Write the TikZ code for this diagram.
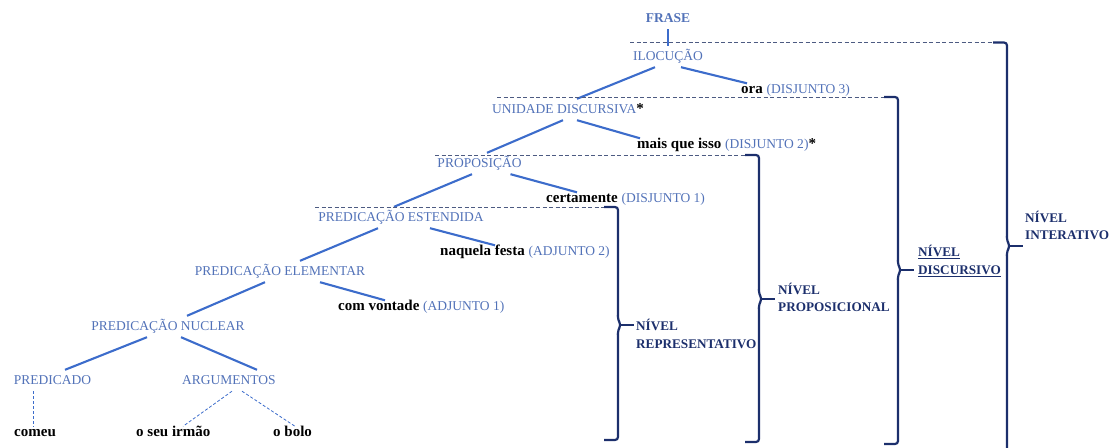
\documentclass[tikz,border=0pt]{standalone}
\usepackage{fontspec}
\setmainfont{Liberation Serif}
\usetikzlibrary{positioning}

\definecolor{catblue}{HTML}{5272B8}
\definecolor{edgeblue}{HTML}{3C6CCB}
\definecolor{layergray}{HTML}{4D5B82}
\definecolor{levelnavy}{HTML}{1C2F6C}

\newcommand{\catfont}{\fontsize{13.5}{16}\selectfont}
\newcommand{\wordfont}{\fontsize{15}{18}\selectfont\bfseries}
\newcommand{\gloss}[1]{{\catfont\mdseries\color{catblue}#1}}

\begin{document}
\begin{tikzpicture}[
			x=1pt, y=-1pt,
			cat/.style={
				font=\catfont,
				text=catblue,
				inner xsep=0pt,
				inner ysep=4pt,
				text height=10pt,
				text depth=3pt,
				yshift=-1.5pt
			},
			word/.style={
				font=\wordfont,
				text=black,
				anchor=west,
				inner sep=0pt,
				text height=10pt,
				text depth=3pt
			},
			level/.style={
				font=\fontsize{13.2}{17.5}\selectfont\bfseries,
				text=levelnavy,
				anchor=west,
				align=left,
				inner sep=0pt
			},
			edge/.style={
				edgeblue,
				line width=2.1pt
			},
			leaf/.style={
				edgeblue,
				dash pattern=on 3pt off 2pt,
				line width=0.8pt
			},
			layer/.style={
				layergray,
				dash pattern=on 4pt off 2.5pt,
				line width=1pt
			},
			bracket/.style={
				levelnavy,
				line width=2.2pt,
				rounded corners=3pt
			}
			]
			\clip (0,0) rectangle (1115,447);
			
			% FRASE and ILOCUÇÃO (top)
			\node[cat, font=\catfont\bfseries] (frase) at (668,17) {FRASE};
			\node[cat] (iloc) at (668,55) {ILOCUÇÃO};
			\draw[edge] (frase.south) -- (iloc.north);
			
			% UNIDADE DISCURSIVA and DISJUNTO 3
			\node[cat] (unid) at (568,108) {UNIDADE DISCURSIVA{\wordfont\color{black}*}};
			\node[word] (ora) at (741,90) {ora \gloss{(DISJUNTO 3)}};
			\draw[edge] ([xshift=-13pt]iloc.south) -- ([xshift=9pt]unid.north);
			\draw[edge] ([xshift=13pt]iloc.south) -- ([xshift=6pt]ora.north west);
			
			% PROPOSIÇÃO and DISJUNTO 2
			\node[cat] (prop) at (479.5,162) {PROPOSIÇÃO};
			\node[word] (mais) at (637,145) {mais que isso \gloss{(DISJUNTO 2)}*};
			\draw[edge] ([xshift=-5pt]unid.south) -- ([xshift=7.5pt]prop.north);
			\draw[edge] ([xshift=9pt]unid.south) -- ([xshift=3pt]mais.north west);
			
			% PREDICAÇÃO ESTENDIDA and DISJUNTO 1
			\node[cat] (ext) at (401,216) {PREDICAÇÃO ESTENDIDA};
			\node[word] (cert) at (546,199) {certamente \gloss{(DISJUNTO 1)}};
			\draw[edge] ([xshift=-7.5pt]prop.south) -- ([xshift=-7pt]ext.north);
			\draw[edge] ([xshift=31pt]prop.south) -- ([xshift=31pt]cert.north west);
			
			% PREDICAÇÃO ELEMENTAR and ADJUNTO 2
			\node[cat] (elem) at (280,270) {PREDICAÇÃO ELEMENTAR};
			\node[word] (festa) at (440,252) {naquela festa \gloss{(ADJUNTO 2)}};
			\draw[edge] ([xshift=-23pt]ext.south) -- ([xshift=20pt]elem.north);
			\draw[edge] ([xshift=29pt]ext.south) -- ([xshift=55pt]festa.north west);
			
			% PREDICAÇÃO NUCLEAR and ADJUNTO 1
			\node[cat] (nuc) at (168,325) {PREDICAÇÃO NUCLEAR};
			\node[word] (vont) at (338,307) {com vontade \gloss{(ADJUNTO 1)}};
			\draw[edge] ([xshift=-15pt]elem.south) -- ([xshift=19pt]nuc.north);
			\draw[edge] ([xshift=40pt]elem.south) -- ([xshift=47pt]vont.north west);
			
			% PREDICADO and ARGUMENTOS
			\node[cat] (pred) at (52.5,379) {PREDICADO};
			\node[cat] (arg) at (229,379) {ARGUMENTOS};
			\draw[edge] ([xshift=-21pt]nuc.south) -- ([xshift=12.5pt]pred.north);
			\draw[edge] ([xshift=13pt]nuc.south) -- ([xshift=28pt]arg.north);
			
			% words (bottom)
			\node[word] (comeu) at (14,433) {comeu};
			\node[word] (irmao) at (136,433) {o seu irmão};
			\node[word] (bolo) at (273,433) {o bolo};
			\draw[leaf] ([xshift=-19.5pt]pred.south) -- ([xshift=19pt]comeu.north west);
			\draw[leaf] ([xshift=3pt]arg.south) -- ([xshift=47pt]irmao.north west);
			\draw[leaf] ([xshift=13pt]arg.south) -- ([xshift=22pt]bolo.north west);
			
			% level boundaries
			\draw[layer] (630,42.5) -- (994,42.5);
			\draw[layer] (497,97) -- (885,97);
			\draw[layer] (435,155) -- (746,155);
			\draw[layer] (315,207) -- (605,207);
			
			% level brackets
			\foreach \bx/\btop/\bmid/\bbot in {618/207/325/440, 759/155/299/442, 898/97/270/444, 1007/42.5/246/470}{
				\draw[bracket] (\bx-14,\btop) -- (\bx,\btop) -- (\bx,\bmid-5) -- (\bx+3,\bmid) -- (\bx,\bmid+5) -- (\bx,\bbot) -- (\bx-14,\bbot);
				\draw[levelnavy, line width=2pt] (\bx+3,\bmid) -- (\bx+16,\bmid);
			}
			
			% level labels
			\node[level] (repr) at (636,334) {NÍVEL\\REPRESENTATIVO};
			\node[level] (propl) at (778,297.5) {NÍVEL\\PROPOSICIONAL};
			\node[level] (disc) at (918,261) {\underline{NÍVEL}\\\underline{DISCURSIVO}};
			\node[level] (inter) at (1025,225.5) {NÍVEL\\INTERATIVO};
			
		\end{tikzpicture}
\end{document}
